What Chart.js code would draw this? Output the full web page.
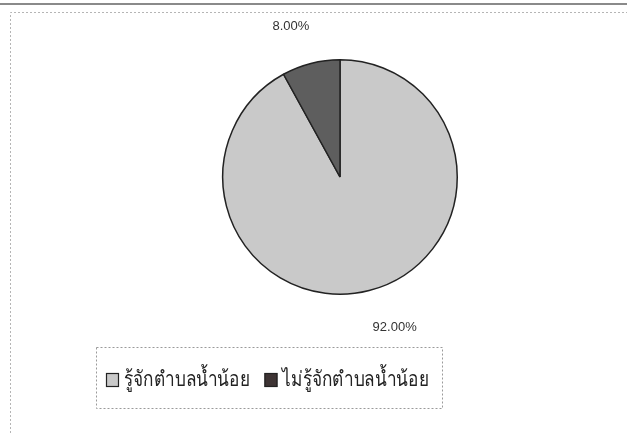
<!DOCTYPE html>
<html>
<head>
<meta charset="utf-8">
<script src="https://cdn.jsdelivr.net/npm/chart.js@4.4.1/dist/chart.umd.min.js"></script>
<style>
  html, body { margin: 0; padding: 0; background: #fff; }
  #wrap { width: 627px; height: 433px; }
</style>
</head>
<body>
<div id="wrap"><canvas id="pieChart"></canvas></div>
<script>
// dados do gráfico
const categorias = ['รู้จักตำบลน้ำน้อย', 'ไม่รู้จักตำบลน้ำน้อย'];
const percentuais = [92, 8];
const rotulos = ['92.00%', '8.00%'];
const cores = ['#c9c9c9', '#5e5e5e'];

// moldura da página escaneada
const moldura = {
    id: 'moldura',
    beforeDraw(chart) {
        const ctx = chart.ctx;
        ctx.save();
        ctx.fillStyle = '#fff';
        ctx.fillRect(0, 0, chart.width, chart.height);
        ctx.strokeStyle = '#8a8a8a';
        ctx.lineWidth = 2;
        ctx.beginPath();
        ctx.moveTo(0, 4);
        ctx.lineTo(chart.width, 4);
        ctx.stroke();
        ctx.strokeStyle = '#b5b5b5';
        ctx.lineWidth = 1;
        ctx.setLineDash([2, 2]);
        ctx.beginPath();
        ctx.moveTo(10.5, chart.height);
        ctx.lineTo(10.5, 12.5);
        ctx.lineTo(chart.width, 12.5);
        ctx.stroke();
        ctx.restore();
    }
};

// rótulos de porcentagem fora das fatias
const rotulosFora = {
    id: 'rotulosFora',
    afterDatasetsDraw(chart) {
        const ctx = chart.ctx;
        const arcos = chart.getDatasetMeta(0).data;
        ctx.save();
        ctx.font = '13px "Liberation Sans", Arial, sans-serif';
        ctx.fillStyle = '#333';
        ctx.textBaseline = 'middle';
        arcos.forEach((arco, i) => {
            const meio = (arco.startAngle + arco.endAngle) / 2;
            const d = arco.outerRadius + 38;
            const x = arco.x + Math.cos(meio) * d;
            const y = arco.y + Math.sin(meio) * d;
            ctx.textAlign = Math.cos(meio) < 0 ? 'right' : 'left';
            ctx.fillText(rotulos[i], x + (Math.cos(meio) < 0 ? 8 : -6), y);
        });
        ctx.restore();
    }
};

// legenda em caixa pontilhada (fonte tailandesa estreita)
const legenda = {
    id: 'legenda',
    afterDraw(chart) {
        const ctx = chart.ctx;
        const bx = 96, by = 347, bw = 346, bh = 61;
        const escala = 0.82;
        ctx.save();
        ctx.strokeStyle = '#9a9a9a';
        ctx.lineWidth = 1;
        ctx.setLineDash([2, 2]);
        ctx.strokeRect(bx + 0.5, by + 0.5, bw, bh);
        ctx.setLineDash([]);
        ctx.font = '21px "Liberation Sans", "DejaVu Sans", sans-serif';
        ctx.textBaseline = 'middle';
        ctx.textAlign = 'left';
        let x = 106;
        const yc = 380;
        categorias.forEach((nome, i) => {
            ctx.fillStyle = i === 1 ? '#3e3434' : cores[i];
            ctx.fillRect(x, yc - 7, 13, 14);
            ctx.strokeStyle = '#222';
            ctx.lineWidth = 1.2;
            ctx.strokeRect(x + 0.5, yc - 6.5, 12, 13);
            ctx.fillStyle = '#222';
            ctx.save();
            ctx.translate(x + 18, yc);
            ctx.scale(escala, 1);
            ctx.fillText(nome, 0, 0);
            ctx.restore();
            x += 18 + ctx.measureText(nome).width * escala + 15;
        });
        ctx.restore();
    }
};

document.addEventListener('DOMContentLoaded', () => {
    const ctx = document.getElementById('pieChart').getContext('2d');
    new Chart(ctx, {
        type: 'pie',
        data: {
            labels: categorias,
            datasets: [{
                data: percentuais,
                backgroundColor: cores,
                borderColor: '#222',
                borderWidth: 1.5
            }]
        },
        options: {
            responsive: true,
            maintainAspectRatio: false,
            animation: false,
            layout: {
                padding: { top: 58, bottom: 137, left: 222, right: 169 }
            },
            plugins: {
                legend: { display: false },
                tooltip: { enabled: false }
            }
        },
        plugins: [moldura, rotulosFora, legenda]
    });
});
</script>
</body>
</html>
